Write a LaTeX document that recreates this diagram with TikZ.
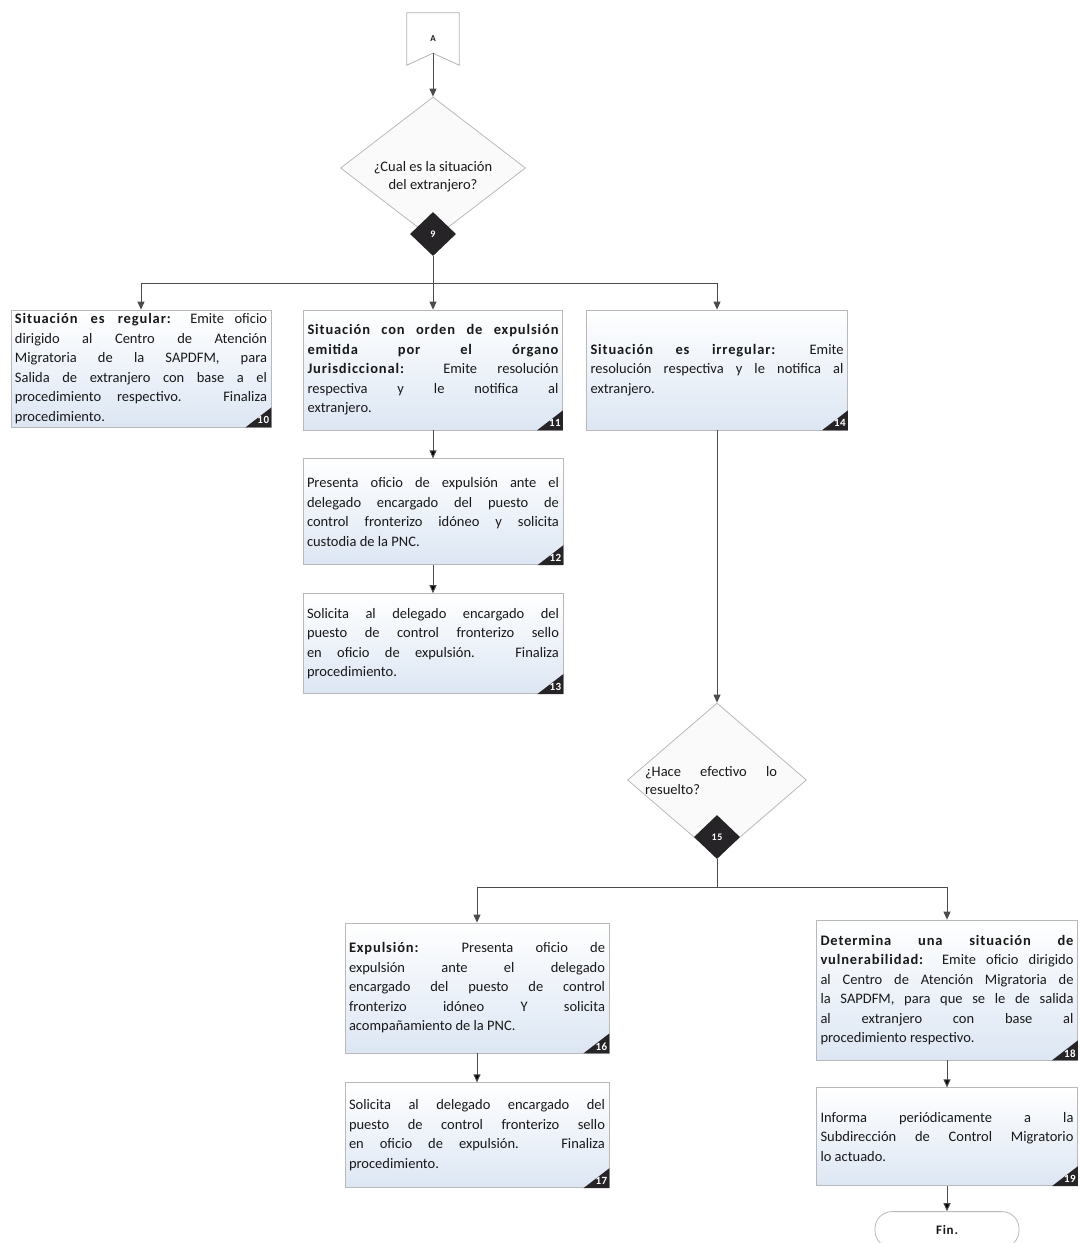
\documentclass[tikz,border=0pt]{standalone}
\usepackage{fontspec}
\setmainfont{Carlito}[BoldFeatures={LetterSpace=6}]
\usetikzlibrary{shapes.geometric, positioning, arrows.meta}
\definecolor{boxblue}{RGB}{220,230,243}
\definecolor{linegray}{RGB}{75,75,75}
\definecolor{tagdark}{RGB}{38,36,38}
\tikzset{
>={Triangle[length=8pt,width=7pt]}, % small solid arrow heads
every node/.style={font=\fontsize{14.5}{19.5}\selectfont, text=black!90},
line/.style={draw=linegray, line width=1pt}, % all connectors
stepbox/.style={draw=gray!55, line width=0.8pt, top color=white, bottom color=boxblue,
  inner xsep=4pt, inner ysep=3pt, align=justify}, % the step boxes
tagnum/.style={font=\bfseries\fontsize{11}{12}\selectfont, text=white, inner sep=0pt},
question/.style={diamond, draw=gray!55, line width=0.8pt, fill=gray!4, inner sep=0pt},
qtext/.style={font=\fontsize{14.5}{18}\selectfont},
qmark/.style={diamond, fill=tagdark, inner sep=0pt, minimum width=46, minimum height=44,
  text=white, font=\bfseries\fontsize{10}{12}\selectfont},
final/.style={draw=gray!55, line width=0.8pt, fill=white, rounded corners=17pt,
  minimum width=144, minimum height=36, font=\bfseries\fontsize{13}{15}\selectfont},
}
% dark corner with the step number
\newcommand{\steptag}[2]{%
  \fill[tagdark] (#1.south east) -- ++(-26,0) -- ++(26,-20) -- cycle;
  \node[tagnum] (#1num) at ([xshift=-8pt,yshift=7pt]#1.south east) {#2};}

\begin{document}
\begin{tikzpicture}[x=1pt, y=-1pt]
    \useasboundingbox (0,0) rectangle (1080,1243);

    % off-page connector
    \node[minimum width=52, minimum height=52, font=\bfseries\fontsize{9}{11}\selectfont] (conA) at (433,39) {A};
    \coordinate (notchA) at ([yshift=12pt]conA.south);
    \draw[draw=gray!60, line width=0.8pt] (conA.north west) -- (conA.north east) -- (conA.south east)
        -- (notchA) -- (conA.south west) -- cycle;

    % first decision
    \node[question, minimum width=185, minimum height=142] (d9) at (433,168) {};
    \node[qtext, align=center] (d9txt) at (433,177) {¿Cual es la situación\\del extranjero?};
    \node[qmark] (t9) at (433,234) {9};
    \coordinate (split9) at (433,283);

    \node[stepbox, text width=252, minimum height=117] (b10) at (141,368.5)
        {\textbf{Situación es regular:} Emite oficio\linebreak dirigido al Centro de Atención\linebreak
        Migratoria de la SAPDFM, para\linebreak Salida de extranjero con base a el\linebreak
        procedimiento respectivo. Finaliza\linebreak procedimiento.};
    \node[stepbox, text width=251, minimum height=120] (b11) at (433,370)
        {\textbf{Situación con orden de expulsión\linebreak emitida por el órgano\linebreak
        Jurisdiccional:} Emite resolución\linebreak respectiva y le notifica al\linebreak extranjero.};
    \node[stepbox, text width=253, minimum height=120] (b14) at (717,370)
        {\textbf{Situación es irregular:} Emite\linebreak resolución respectiva y le notifica al\linebreak extranjero.};
    \node[stepbox, text width=252, minimum height=106, below=28pt of b11] (b12)
        {Presenta oficio de expulsión ante el\linebreak delegado encargado del puesto de\linebreak
        control fronterizo idóneo y solicita\linebreak custodia de la PNC.};
    \node[stepbox, text width=252, minimum height=100, below=28pt of b12] (b13)
        {Solicita al delegado encargado del\linebreak puesto de control fronterizo sello\linebreak
        en oficio de expulsión. Finaliza\linebreak procedimiento.};

    % second decision
    \node[question, minimum width=179, minimum height=154] (d15) at (717,780) {};
    \node[qtext, align=justify, text width=132] (d15txt) at (711,781) {¿Hace efectivo lo\linebreak resuelto?};
    \node[qmark] (t15) at (717,837) {15};
    \coordinate (split15) at (717,887);

    \node[stepbox, text width=256, minimum height=130] (b16) at (477,988)
        {\textbf{Expulsión:} Presenta oficio de\linebreak expulsión ante el delegado\linebreak
        encargado del puesto de control\linebreak fronterizo idóneo Y solicita\linebreak acompañamiento de la PNC.};
    \node[stepbox, text width=256, minimum height=105, below=29pt of b16] (b17)
        {Solicita al delegado encargado del\linebreak puesto de control fronterizo sello\linebreak
        en oficio de expulsión. Finaliza\linebreak procedimiento.};
    \node[stepbox, text width=253, minimum height=140] (b18) at (947,990)
        {\textbf{Determina una situación de\linebreak vulnerabilidad:} Emite oficio dirigido\linebreak
        al Centro de Atención Migratoria de\linebreak la SAPDFM, para que se le de salida\linebreak
        al extranjero con base al\linebreak procedimiento respectivo.};
    \node[stepbox, text width=253, minimum height=98, below=27pt of b18] (b19)
        {Informa periódicamente a la\linebreak Subdirección de Control Migratorio\linebreak lo actuado.};
    \node[final, below=25pt of b19] (fin) {Fin.};

    \steptag{b10}{10} \steptag{b11}{11} \steptag{b14}{14}
    \steptag{b12}{12} \steptag{b13}{13}
    \steptag{b16}{16} \steptag{b17}{17} \steptag{b18}{18} \steptag{b19}{19}

    \draw[line, ->] (notchA) -- (d9.north);
    \draw[line] (t9.south) -- (split9);
    \draw[line, ->] (split9) -| (b10.north);
    \draw[line, ->] (split9) -- (b11.north);
    \draw[line, ->] (split9) -| (b14.north);
    \draw[line, ->]
        (b11) edge (b12)
        (b12) edge (b13)
        ;
    \draw[line, ->] (b14.south) -- (d15.north);
    \draw[line] (t15.south) -- (split15);
    \draw[line, ->] (split15) -| (b16.north);
    \draw[line, ->] (split15) -| (b18.north);
    \draw[line, ->]
        (b16) edge (b17)
        (b18) edge (b19)
        (b19) edge (fin)
        ;
\end{tikzpicture}
\end{document}
